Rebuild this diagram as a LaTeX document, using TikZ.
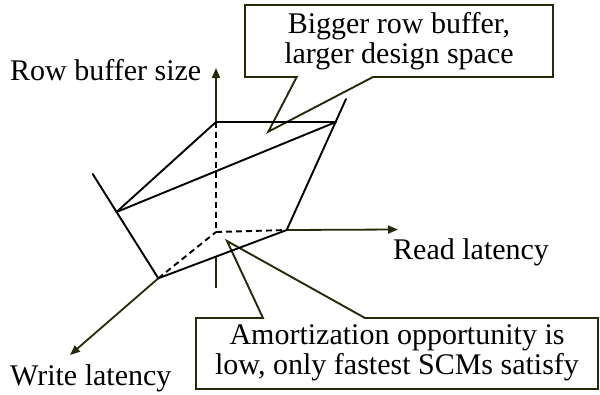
\documentclass[tikz,border=0pt]{standalone}
\usepackage{fontspec}
\setmainfont{Liberation Serif}
\usetikzlibrary{arrows.meta}
\definecolor{olive}{RGB}{40,40,10}
\tikzset{
  shapeline/.style={line width=1.9pt, black, line cap=round, line join=round},
  hiddenline/.style={line width=1.9pt, black, dash pattern=on 6pt off 4pt},
  axisarrow/.style={line width=1.8pt, olive, -{Triangle[length=10pt,width=8pt]}},
  axisline/.style={line width=1.8pt, olive},
  callout/.style={line width=1.9pt, olive, line join=miter},
  lbl/.style={inner sep=0pt, font=\fontsize{30}{30}\selectfont},
}
\begin{document}
\begin{tikzpicture}[x=1pt,y=-1pt]
\useasboundingbox (0,0) rectangle (600,394);
% coordinates
\coordinate (O) at (216,232);
\coordinate (Ytip) at (216,68);
\coordinate (Ytop) at (216,122);
\coordinate (Ybot) at (216,288);
\coordinate (Ycross) at (216,256.5);
\coordinate (Xend) at (286.7,230);
\coordinate (Xtip) at (398,229.5);
\coordinate (Zend) at (158.3,278.3);
\coordinate (Ztip) at (70,355);
\coordinate (TR) at (336,122);
\coordinate (RTop) at (346,99);
\coordinate (LMid) at (116.5,212);
\coordinate (LTop) at (92.7,174);
% callouts
\draw[callout] (245,5) -- (553,5) -- (553,77) -- (373,77) -- (268.3,131.7) -- (296.7,77) -- (245,77) -- cycle;
\draw[callout] (196,318) -- (263,318) -- (227,241) -- (365,318) -- (598,318) -- (598,389) -- (196,389) -- cycle;
% axes
\draw[axisarrow] (Ytop) -- (Ytip);
\draw[axisline] (Ycross) -- (Ybot);
\draw[axisarrow] (Xend) -- (Xtip);
\draw[axisarrow] (Zend) -- (Ztip);
% hidden edges
\draw[hiddenline] (Ytop) -- (O);
\draw[hiddenline] (O) -- (Xend);
\draw[hiddenline] (Zend) -- (O);
% visible edges
\draw[shapeline] (Ytop) -- (TR);
\draw[shapeline] (RTop) -- (Xend);
\draw[shapeline] (Ytop) -- (LMid);
\draw[shapeline] (TR) -- (LMid);
\draw[shapeline] (LTop) -- (Zend);
\draw[shapeline] (Zend) -- (Xend);
% labels
\node[lbl, anchor=base west] (rowlbl) at (10,80) {Row buffer size};
\node[lbl, anchor=base west] (readlbl) at (393,259) {Read latency};
\node[lbl, anchor=base west] (writelbl) at (10,385) {Write latency};
\node[lbl, align=center] (toptext) at (399,41.3) {Bigger row buffer,\\larger design space};
\node[lbl, align=center] (bottext) at (397,352.6) {Amortization opportunity is\\low, only fastest SCMs satisfy};
\end{tikzpicture}
\end{document}
